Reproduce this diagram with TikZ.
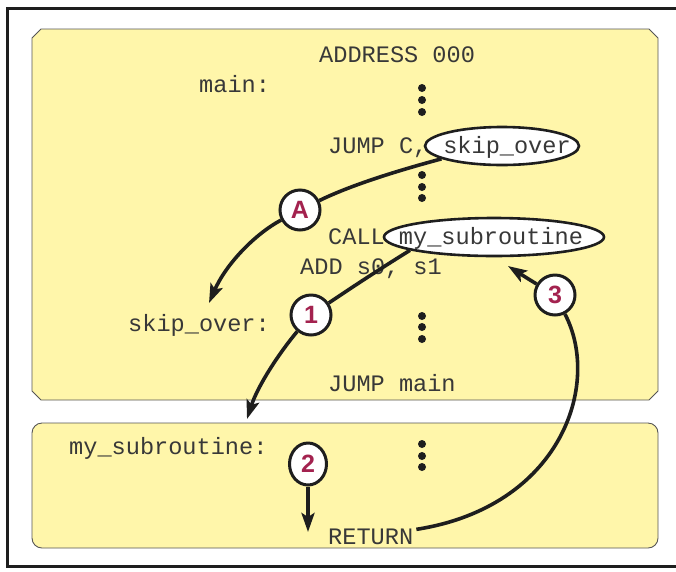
\documentclass[tikz,border=0pt]{standalone}
\usepackage{fontspec}
\usetikzlibrary{shapes.geometric,arrows.meta}
\newfontfamily\codefont{Liberation Mono}
\newfontfamily\labfont{Liberation Sans}
\definecolor{boxfill}{HTML}{FFF6AA}
\definecolor{boxline}{HTML}{555555}
\definecolor{codecol}{HTML}{383838}
\definecolor{labcol}{HTML}{A3224F}
\definecolor{inkcol}{HTML}{1E1E1E}
\tikzset{
  code/.style={inner sep=0pt, anchor=base west, text=codecol, font=\codefont\fontsize{23.6}{28}\selectfont},
  ovaltext/.style={inner sep=0pt, text=codecol, font=\codefont\fontsize{23.6}{28}\selectfont},
  ovalbox/.style={ellipse, draw=inkcol, line width=2.6pt, fill=white, inner sep=0pt},
  marker/.style={circle, draw=inkcol, line width=3pt, fill=white, minimum size=40pt, inner sep=0pt, text=labcol, font=\labfont\bfseries\fontsize{25}{28}\selectfont},
  flow/.style={draw=inkcol, line width=3.6pt},
  flowtip/.style={flow, -{Stealth[length=19pt,width=13pt,inset=4pt]}},
  dotmark/.style={circle, fill=inkcol, inner sep=0pt, minimum size=8pt},
}
\begin{document}
\begin{tikzpicture}[x=1pt,y=-1pt]
\useasboundingbox (0,0) rectangle (676,571);
% outer frame
\draw[line width=3pt, draw=inkcol] (680,8) -- (7.5,8) -- (7.5,566) -- (680,566);
% top box (chamfered)
\draw[fill=boxfill, draw=boxline, line width=0.9pt]
  (41,29) -- (649,29) -- (658,38) -- (658,391) -- (649,400) -- (41,400) -- (32,391) -- (32,38) -- cycle;
% bottom box (rounded)
\draw[fill=boxfill, draw=boxline, line width=0.9pt, rounded corners=10pt]
  (32,423) rectangle (658,548);
% texts top box
\node[code] (addr) at (319,62) {ADDRESS 000};
\node[code] (mainlbl) at (199,92) {main:};
\node[code] (jumpc) at (328,153) {JUMP C,};
\node[code] (call) at (328,244) {CALL};
\node[code] (addl) at (300,274) {ADD s0, s1};
\node[code] (skiplbl) at (128,331) {skip\_over:};
\node[code] (jumpmain) at (328,391) {JUMP main};
% bottom box
\node[code] (sublbl) at (69,454) {my\_subroutine:};
\node[code] (ret) at (328,544) {RETURN};
% ellipses
\node[ovalbox, minimum width=154pt, minimum height=38pt] (skipEll) at (502,146) {};
\node[ovaltext, anchor=base] (skipTxt) at (507,153) {skip\_over};
\node[ovalbox, minimum width=220pt, minimum height=38pt] (subEll) at (494,237) {};
\node[ovaltext, anchor=base] (subTxt) at (491,244) {my\_subroutine};
% dots
\foreach \yy [count=\i] in {88,100,112} \node[dotmark] (da\i) at (422,\yy) {};
\foreach \yy [count=\i] in {175,187,198} \node[dotmark] (db\i) at (422,\yy) {};
\foreach \yy [count=\i] in {316,327,339} \node[dotmark] (dc\i) at (422,\yy) {};
\foreach \yy [count=\i] in {444,456,467} \node[dotmark] (dd\i) at (422,\yy) {};
% markers
\node[marker] (mA) at (300,210) {A};
\node[marker] (m1) at (311,315) {1};
\node[marker] (m3) at (555,295) {3};
\node[marker, ellipse, minimum width=37pt, minimum height=42pt] (m2) at (308,464) {2};
% end coordinates
\coordinate (tipA) at (209,303);
\coordinate (tip1) at (247,419);
\coordinate (tip2) at (308,532);
\coordinate (tip3) at (508,266);
% connectors
\draw[flow] (skipEll.-168) .. controls (385,174) and (345,188) .. (mA);
\draw[flowtip] (mA) .. controls (255,234) and (226,264) .. (tipA);
\draw[flow] (subEll.-171) .. controls (375,272) and (345,292) .. (m1);
\draw[flowtip] (m1) .. controls (280,352) and (258,385) .. (tip1);
\draw[flowtip] (m2) -- (tip2);
\path (ret.east) ++(3,-7) coordinate (retend);
\draw[flow] (retend) .. controls (560,507) and (602,385) .. (m3);
\draw[flowtip] (m3) .. controls (530,280) .. (tip3);
\end{tikzpicture}
\end{document}
